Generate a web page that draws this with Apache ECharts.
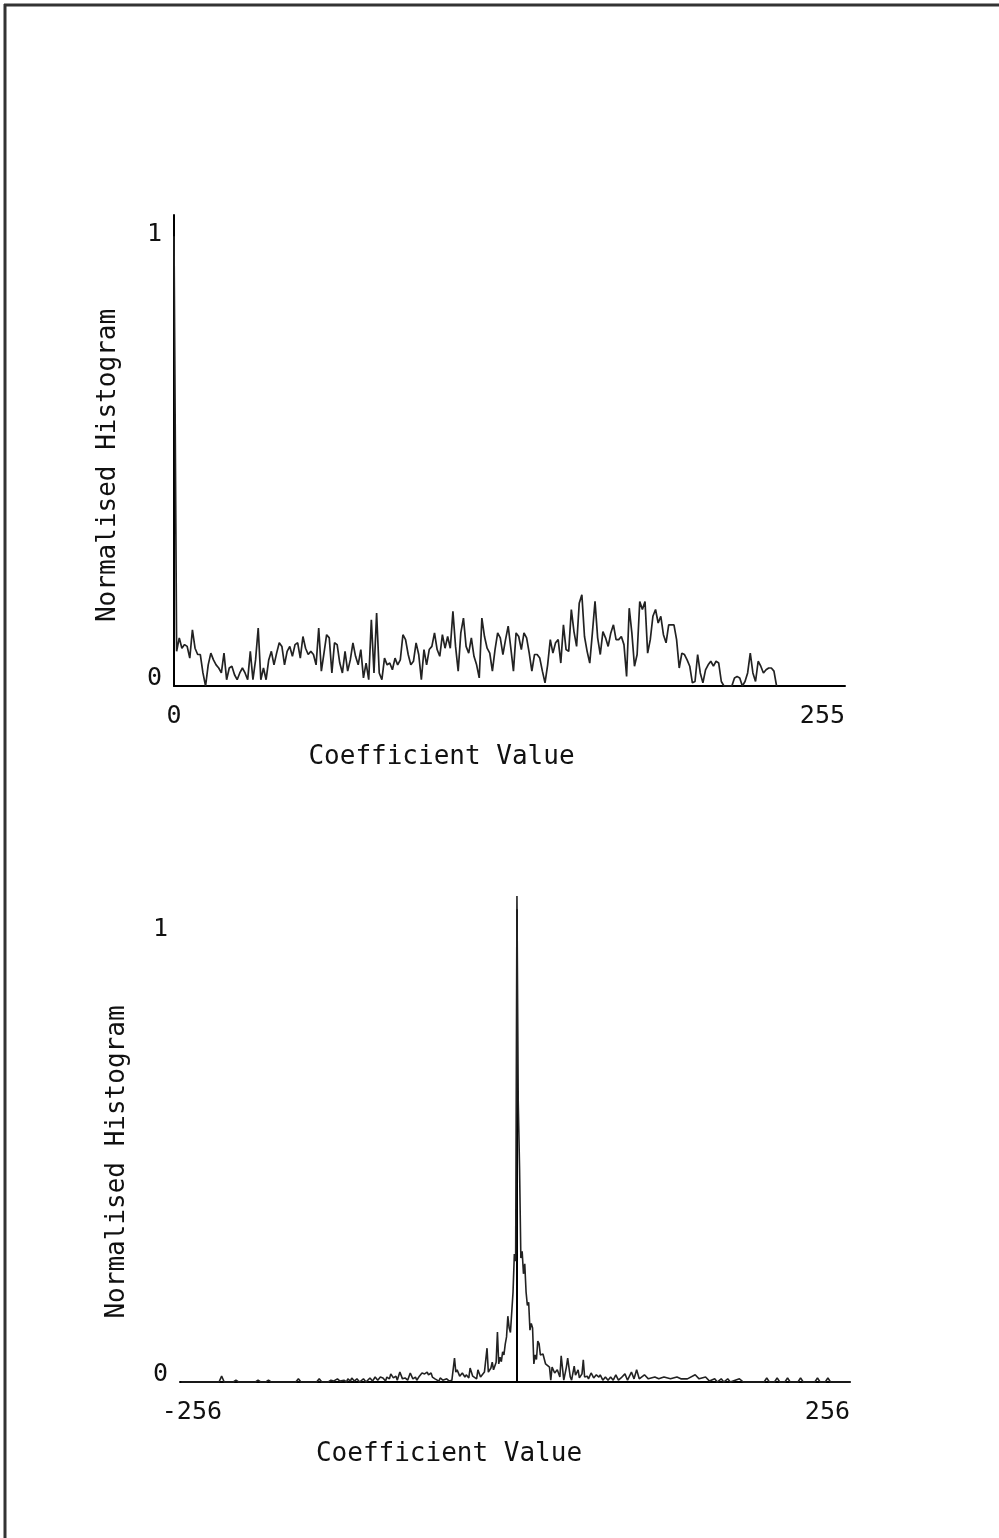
<!DOCTYPE html>
<html>
<head>
<meta charset="utf-8">
<style>
  html, body { margin: 0; padding: 0; background: #fff; }
  #chart { width: 999px; height: 1538px; }
</style>
<script src="https://cdn.jsdelivr.net/npm/echarts@6.0.0/dist/echarts.min.js"></script>
</head>
<body>
<div id="chart"></div>
<script>
// top plot: histogram over coefficient values 0..255 (index = coefficient value)
var hist1 = [
  1.0, 0.077, 0.107, 0.084, 0.092, 0.088, 0.062, 0.125, 0.084, 0.070,
  0.070, 0.029, 0, 0.047, 0.073, 0.058, 0.047, 0.040, 0.029, 0.073,
  0.014, 0.040, 0.044, 0.025, 0.014, 0.029, 0.040, 0.029, 0.014, 0.077,
  0.014, 0.058, 0.129, 0.014, 0.040, 0.014, 0.058, 0.077, 0.047, 0.073,
  0.096, 0.088, 0.047, 0.077, 0.088, 0.066,
  0.092, 0.096, 0.062, 0.110, 0.084, 0.070, 0.077, 0.070, 0.047, 0.129,
  0.033, 0.073, 0.114, 0.107, 0.029, 0.096, 0.092, 0.051, 0.029, 0.077,
  0.033, 0.058, 0.096, 0.066, 0.047, 0.081, 0.018, 0.051, 0.014, 0.147,
  0.029, 0.162, 0.029, 0.014, 0.062, 0.047, 0.051, 0.036, 0.062, 0.047,
  0.058, 0.114, 0.103, 0.070, 0.047, 0.055,
  0.096, 0.070, 0.014, 0.081, 0.047, 0.081, 0.088, 0.118, 0.081, 0.066,
  0.114, 0.084, 0.110, 0.084, 0.166, 0.088, 0.033, 0.118, 0.151,
  0.088, 0.073, 0.107, 0.066, 0.047, 0.018, 0.151, 0.110, 0.084, 0.073,
  0.033, 0.081, 0.118, 0.107, 0.070, 0.103, 0.133, 0.084,
  0.033, 0.118, 0.110, 0.081, 0.118, 0.107, 0.073, 0.033, 0.070,
  0.070, 0.062, 0.033, 0.007, 0.047, 0.103, 0.073, 0.096, 0.103,
  0.051, 0.136, 0.081, 0.077, 0.170, 0.121, 0.088, 0.184,
  0.203, 0.110, 0.077, 0.051, 0.118, 0.188, 0.107, 0.070, 0.121, 0.107,
  0.088, 0.118, 0.136, 0.103, 0.103, 0.110, 0.092,
  0.021, 0.173, 0.118, 0.044, 0.070, 0.188, 0.170, 0.188,
  0.073, 0.103, 0.155, 0.170,
  0.140, 0.155, 0.114, 0.096, 0.136, 0.136, 0.136, 0.103, 0.040, 0.073,
  0.070, 0.058, 0.044, 0.007, 0.010, 0.070, 0.029, 0.007, 0.036, 0.047,
  0.055, 0.044, 0.055, 0.051, 0.010, 0, 0, 0, 0, 0.018,
  0.021, 0.018, 0, 0.010, 0.029, 0.073, 0.029, 0.010, 0.055, 0.044,
  0.029, 0.036, 0.040, 0.040, 0.033, 0
];

// bottom plot: coefficient values -256..256 and their normalised counts
var coef2 = [
  -258, -229, -227, -225, -218, -216, -214, -201, -199, -197, -193, -191, -189,
  -170, -168, -166, -154, -152, -150,
  -145, -143, -141, -138, -136, -133, -131,
  -130, -128, -127, -125, -123, -121, -118, -116,
  -113, -111, -109, -107, -105, -103, -101,
  -100, -98, -97, -95, -93, -92, -90, -88, -86, -84, -82, -80, -78, -77,
  -75, -73, -71, -69, -68, -66, -65, -63, -62, -60, -59, -57, -54, -52, -50,
  -48, -47, -46, -44, -42, -40, -39, -37, -36, -34, -33, -31, -30, -28, -27, -25,
  -24, -23, -22, -21, -20, -19, -18, -16, -15, -14, -13, -12, -11, -10, -9, -8, -7, -6, -5, -4, -3, -2, -1,
  0,
  1, 2, 3, 4, 5, 6, 7, 8, 9, 10, 11, 12, 13, 14, 15, 16, 17, 18, 20, 22, 23, 25, 26, 27, 29,
  31, 33, 34, 36, 38, 39, 41, 42, 44, 45, 47, 48, 50, 51, 52, 54, 55, 57, 59,
  61, 63, 64, 66, 68, 70, 72, 74, 76, 78, 80, 83, 85, 88, 90, 92, 94, 98, 101,
  106, 109, 113, 118, 123, 126, 131, 137, 140, 145, 148, 152, 154, 157, 159, 162, 164, 171, 174,
  190, 192, 194, 198, 200, 202, 206, 208, 210, 216, 218, 220, 229, 231, 233, 237, 239, 241, 256
];
var hist2 = [
  0, 0, 0.013, 0, 0, 0.004, 0, 0, 0.004, 0, 0, 0.004, 0,
  0, 0.007, 0, 0, 0.007, 0,
  0, 0.004, 0.002, 0.007, 0.002, 0.004, 0,
  0.007, 0.002, 0.009, 0.002, 0.007, 0, 0.007, 0,
  0.009, 0.002, 0.011, 0.004, 0.011, 0.009, 0.002,
  0.011, 0.007, 0.018, 0.009, 0.013, 0.004, 0.022, 0.007, 0.009, 0.004, 0.020, 0.007, 0.011, 0.004,
  0.013, 0.020, 0.018, 0.022, 0.016, 0.020, 0.011, 0.007, 0.011, 0.002, 0.009, 0.004, 0.007, 0.002, 0.004,
  0.053, 0.022, 0.027, 0.013, 0.020, 0.011, 0.016, 0.009, 0.031, 0.013, 0.016, 0.007, 0.027, 0.011, 0.013, 0.022,
  0.022, 0.075, 0.022, 0.018, 0.031, 0.044, 0.027, 0.044, 0.111, 0.040, 0.055, 0.045, 0.067, 0.060, 0.084, 0.100, 0.146, 0.120, 0.110, 0.106, 0.200, 0.284, 0.268,
  1.078,
  0.620, 0.475, 0.275, 0.290, 0.240, 0.262, 0.200, 0.170, 0.177, 0.115, 0.130, 0.120, 0.040, 0.060, 0.050, 0.091, 0.085, 0.060, 0.062, 0.040, 0.044, 0.033, 0.004, 0.033, 0.020,
  0.027, 0.011, 0.058, 0.004, 0.033, 0.053, 0.011, 0.004, 0.035, 0.015, 0.027, 0.009, 0.018, 0.049, 0.011, 0.013, 0.007, 0.020, 0.009,
  0.016, 0.011, 0.016, 0.004, 0.011, 0.004, 0.011, 0.004, 0.016, 0.004, 0.009, 0.018, 0.004, 0.022, 0.007, 0.027, 0.007, 0.016, 0.007,
  0.011, 0.007, 0.011, 0.007, 0.011, 0.007, 0.007, 0.016, 0.007, 0.011, 0.002, 0.007, 0, 0.007, 0, 0.007, 0, 0.007, 0,
  0, 0.009, 0, 0, 0.009, 0, 0, 0.009, 0, 0, 0.009, 0, 0, 0.009, 0, 0, 0.009, 0, 0
];

var xTicks1 = [0, 255];
var xTicks2 = [-256, 256];
var yTicks = [0, 1];

var mono = 'DejaVu Sans Mono';
var ink = '#111';

var myChart = echarts.init(document.getElementById('chart'));

function yAxisFor(idx, gap, shift) {
  return {
    type: 'value',
    gridIndex: idx,
    min: 0,
    max: 1.047,
    name: 'Normalised Histogram',
    nameLocation: 'middle',
    nameRotate: 90,
    nameGap: gap,
    // text runs bottom-to-top, so right padding pushes it down the page
    nameTextStyle: { fontFamily: mono, fontSize: 26, color: ink, padding: [0, shift, 0, 0] },
    axisLine: { show: true, lineStyle: { color: '#000', width: 2 } },
    axisTick: { show: false },
    splitLine: { show: false },
    axisLabel: {
      customValues: yTicks,
      margin: 12,
      formatter: function (v) { return v === 0 ? '{z|0}' : '{o|1}'; },
      rich: {
        z: { fontFamily: mono, fontSize: 25, color: ink, padding: [0, 0, 16, 0] },
        o: { fontFamily: mono, fontSize: 25, color: ink, padding: [0, 0, 4, 0] }
      }
    }
  };
}

var option = {
  backgroundColor: '#fff',
  animation: false,
  grid: [
    { left: 174, right: 154, top: 215, bottom: 852 },
    { left: 180, right: 149, top: 910, bottom: 156 }
  ],
  xAxis: [{
    type: 'value',
    gridIndex: 0,
    min: 0,
    max: 255,
    name: 'Coefficient Value',
    nameLocation: 'middle',
    nameGap: 58,
    nameTextStyle: { fontFamily: mono, fontSize: 26, color: ink, padding: [0, 136, 0, 0] },
    axisLine: { show: true, onZero: false, lineStyle: { color: '#000', width: 2 } },
    axisTick: { show: false },
    splitLine: { show: false },
    axisLabel: {
      customValues: xTicks1,
      margin: 18,
      alignMaxLabel: 'right',
      fontFamily: mono, fontSize: 25, color: ink
    }
  }, {
    type: 'value',
    gridIndex: 1,
    min: -259,
    max: 256,
    name: 'Coefficient Value',
    nameLocation: 'middle',
    nameGap: 59,
    nameTextStyle: { fontFamily: mono, fontSize: 26, color: ink, padding: [0, 132, 0, 0] },
    axisLine: { show: true, onZero: false, lineStyle: { color: '#000', width: 2 } },
    axisTick: { show: false },
    splitLine: { show: false },
    axisLabel: {
      customValues: xTicks2,
      margin: 18,
      alignMaxLabel: 'right',
      formatter: function (v) { return v < 0 ? '{m|' + v + '}' : '{p|' + v + '}'; },
      rich: {
        m: { fontFamily: mono, fontSize: 25, color: ink, padding: [0, 0, 0, 16] },
        p: { fontFamily: mono, fontSize: 25, color: ink }
      }
    }
  }],
  yAxis: [yAxisFor(0, 53, 30), yAxisFor(1, 50, 32)],
  series: [{
    type: 'line',
    xAxisIndex: 0,
    yAxisIndex: 0,
    data: hist1.map(function (v, i) { return [i, v]; }),
    showSymbol: false,
    lineStyle: { color: '#222', width: 1.7 }
  }, {
    type: 'line',
    xAxisIndex: 1,
    yAxisIndex: 1,
    clip: false,
    data: coef2.map(function (c, i) { return [c, hist2[i]]; }),
    showSymbol: false,
    lineStyle: { color: '#222', width: 1.6 }
  }],
  graphic: [
    { type: 'line', shape: { x1: 5, y1: 4, x2: 5, y2: 1538 }, style: { stroke: '#333', lineWidth: 3 } },
    { type: 'line', shape: { x1: 4, y1: 5, x2: 999, y2: 5 }, style: { stroke: '#333', lineWidth: 3 } }
  ]
};

myChart.setOption(option);
</script>
</body>
</html>
